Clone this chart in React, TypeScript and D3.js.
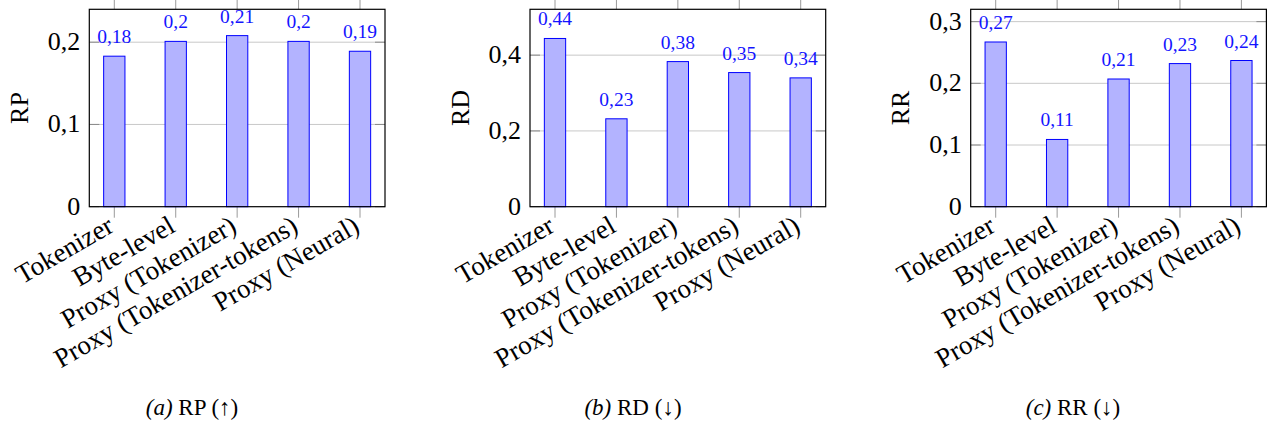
import React from "react";
import * as d3 from "d3";

// Categories shared by all three panels
const categories = [
  "Tokenizer",
  "Byte-level",
  "Proxy (Tokenizer)",
  "Proxy (Tokenizer-tokens)",
  "Proxy (Neural)",
];

// Metric values per panel
const rpValues = [0.183, 0.201, 0.208, 0.201, 0.189];
const rdValues = [0.444, 0.232, 0.383, 0.354, 0.34];
const rrValues = [0.267, 0.109, 0.207, 0.232, 0.237];

// Y-axis ticks per panel
const rpTicks = [0, 0.1, 0.2];
const rdTicks = [0, 0.2, 0.4];
const rrTicks = [0, 0.1, 0.2, 0.3];

const panels = [
  { tag: "(a)", metric: "RP", arrow: "↑", values: rpValues, ticks: rpTicks, yMax: 0.24, left: 89.3, captionX: 192 },
  { tag: "(b)", metric: "RD", arrow: "↓", values: rdValues, ticks: rdTicks, yMax: 0.521, left: 530, captionX: 633 },
  { tag: "(c)", metric: "RR", arrow: "↓", values: rrValues, ticks: rrTicks, yMax: 0.32, left: 970.7, captionX: 1073 },
];

const W = 1267;
const H = 423;
const frameW = 295.7;
const top = 9.3;
const bottom = 206.7;
const barW = 21.3;
const serif = { fontFamily: "Liberation Serif" };

// Decimal comma, at most two decimals, trailing zeros dropped
const fmt = (v: number) => {
  const r = Math.round(v * 100) / 100;
  return String(r).replace(".", ",");
};

function Panel({ p }: { p: (typeof panels)[number] }) {
  const x = d3
    .scalePoint<string>()
    .domain(categories)
    .range([p.left + 25, p.left + frameW - 25]);
  const y = d3.scaleLinear().domain([0, p.yMax]).range([bottom, top]);
  const right = p.left + frameW;

  return (
    <g>
      {/* horizontal grid */}
      {p.ticks
        .filter((t) => t > 0)
        .map((t) => (
          <line key={"g" + t} x1={p.left} x2={right} y1={y(t)} y2={y(t)} stroke="#c8c8c8" strokeWidth={1} />
        ))}
      {/* y ticks inside on both sides */}
      {p.ticks.map((t) => (
        <g key={"yt" + t}>
          <line x1={p.left} x2={p.left + 10} y1={y(t)} y2={y(t)} stroke="#8a8a8a" strokeWidth={1} />
          <line x1={right - 10} x2={right} y1={y(t)} y2={y(t)} stroke="#8a8a8a" strokeWidth={1} />
          <text x={p.left - 9} y={y(t) + 8} textAnchor="end" fontSize={26} fill="#000" style={serif}>
            {fmt(t)}
          </text>
        </g>
      ))}
      {/* x ticks outside top and bottom */}
      {categories.map((c) => (
        <g key={"xt" + c}>
          <line x1={x(c)} x2={x(c)} y1={bottom} y2={bottom + 11} stroke="#9a9a9a" strokeWidth={1} />
          <line x1={x(c)} x2={x(c)} y1={top - 11} y2={top} stroke="#9a9a9a" strokeWidth={1} />
        </g>
      ))}
      {/* bars */}
      {p.values.map((v, i) => {
        const cx = x(categories[i])!;
        return (
          <g key={"b" + i}>
            <rect
              x={cx - barW / 2}
              y={y(v)}
              width={barW}
              height={bottom - y(v)}
              fill="#b3b3ff"
              stroke="#0000ff"
              strokeWidth={1}
            />
            <text x={cx} y={y(v) - 13} textAnchor="middle" fontSize={19.5} fill="#1414ff" style={serif}>
              {fmt(v)}
            </text>
          </g>
        );
      })}
      {/* frame */}
      <rect x={p.left} y={top} width={frameW} height={bottom - top} fill="none" stroke="#000" strokeWidth={1.2} />
      {/* category labels */}
      {categories.map((c) => (
        <text
          key={"cl" + c}
          transform={`translate(${x(c)! + 1},${bottom + 24}) rotate(-30)`}
          textAnchor="end"
          fontSize={27}
          fill="#000"
          style={serif}
        >
          {c}
        </text>
      ))}
      {/* y title */}
      <text
        transform={`translate(${p.left - 70},${(top + bottom) / 2}) rotate(-90)`}
        textAnchor="middle"
        dominantBaseline="central"
        fontSize={26}
        fill="#000"
        style={serif}
      >
        {p.metric}
      </text>
      {/* caption */}
      <text x={p.captionX} y={415} textAnchor="middle" fontSize={23} fill="#000" style={serif}>
        <tspan fontStyle="italic">{p.tag}</tspan>
        <tspan>{` ${p.metric} (${p.arrow})`}</tspan>
      </text>
    </g>
  );
}

export default function App() {
  return (
    <svg
      width={W}
      height={H}
      viewBox={`0 0 ${W} ${H}`}
      style={{ position: "absolute", left: 0, top: 0, background: "#fff" }}
    >
      <rect width={W} height={H} fill="#fff" />
      {panels.map((p) => (
        <Panel key={p.tag} p={p} />
      ))}
    </svg>
  );
}
